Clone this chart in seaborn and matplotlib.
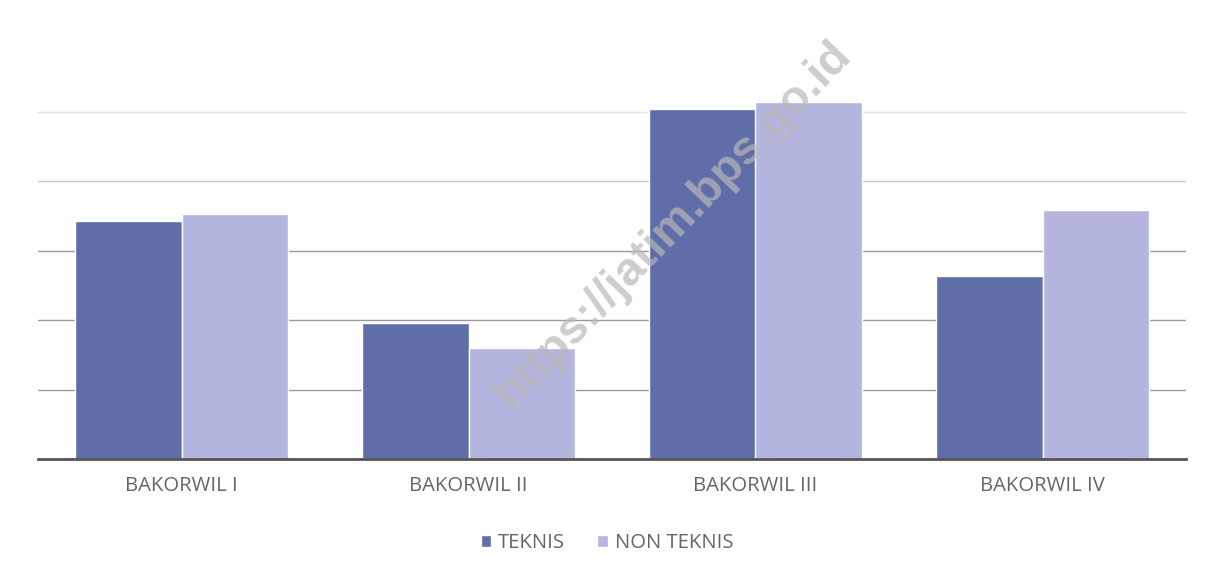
import matplotlib
matplotlib.use("Agg")
import matplotlib.pyplot as plt
import seaborn as sns
import pandas as pd

categories = ["BAKORWIL I", "BAKORWIL II", "BAKORWIL III", "BAKORWIL IV"]
teknis = [34.2, 19.5, 50.4, 26.4]
non_teknis = [35.2, 15.9, 51.3, 35.8]
series_names = ["TEKNIS", "NON TEKNIS"]
colors = ["#5f6ea8", "#b4b6df"]

df = pd.DataFrame({
    "wilayah": categories * 2,
    "nilai": teknis + non_teknis,
    "jenis": [series_names[0]] * 4 + [series_names[1]] * 4,
})

sns.set_theme(style="white")
plt.rcParams["font.family"] = ["Open Sans", "DejaVu Sans"]

fig = plt.figure(figsize=(12.14, 5.81), dpi=100)
ax = fig.add_axes([38 / 1214, 1 - 459 / 581, 1148 / 1214, 417 / 581])

sns.barplot(data=df, x="wilayah", y="nilai", hue="jenis", palette=colors,
            width=0.745, saturation=1, ax=ax, legend=True)

ax.set_ylim(0, 60)
ax.set_xlim(-0.5, 3.5)
ax.set_yticks(range(0, 61, 10))
ax.set_yticklabels([])
ax.tick_params(axis="y", length=0)
ax.tick_params(axis="x", length=0, labelsize=14.6, labelcolor="#666666", pad=12)
ax.yaxis.grid(True, linewidth=1)
# gridlines fade toward the top of the plot
grid_colors = ["#ffffff", "#9a9a9a", "#9a9a9a", "#9a9a9a", "#c8c8c8", "#e4e4e4", "#ffffff"]
for line, c in zip(ax.get_ygridlines(), grid_colors):
    line.set_color(c)
ax.set_axisbelow(True)
ax.set_xlabel("")
ax.set_ylabel("")
for s in ["top", "right", "left"]:
    ax.spines[s].set_visible(False)
ax.spines["bottom"].set_color("#555555")
ax.spines["bottom"].set_linewidth(2)

handles, labels = ax.get_legend_handles_labels()
ax.legend_.remove()
fig.legend(handles, labels, loc="center", bbox_to_anchor=(0.5, 1 - 543 / 581),
           ncol=2, frameon=False, fontsize=14.6, handlelength=0.5, handleheight=0.5,
           columnspacing=1.6, handletextpad=0.35, labelcolor="#666666")

fig.text(0.555, 0.615, "https://jatim.bps.go.id", rotation=46, fontsize=34,
         family="Liberation Sans", fontweight="bold",
         color="#b8b8b8", alpha=0.7, ha="center", va="center")

fig.savefig("out.png", dpi=100, facecolor="white")
